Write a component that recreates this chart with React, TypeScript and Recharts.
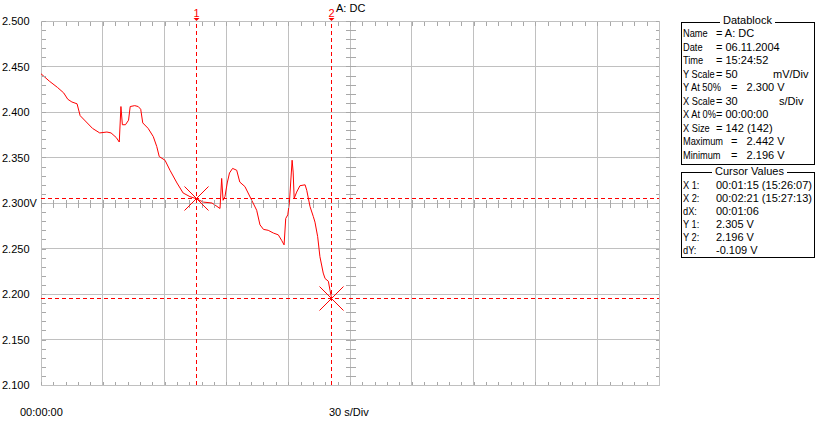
import React from "react";
import {
  ComposedChart,
  Line,
  Scatter,
  XAxis,
  YAxis,
  CartesianGrid,
  ReferenceLine,
  ReferenceDot,
  ReferenceArea,
} from "recharts";

// trace (seconds, volts)
const seconds = [
  0, 4, 8, 11, 13, 15, 17.5, 19, 22, 25, 28.5, 32, 34, 36.5, 38, 38.8, 39.5, 41, 42.5, 43.3,
  45.5, 47.2, 48.4, 49.4, 52, 54.5, 56.2, 57.4, 60.2, 62.6, 66, 69, 72.3, 75, 78.8, 83, 86.9,
  87.7, 88.4, 89.3, 90.4, 91.5, 93, 95, 96.5, 99, 102.3, 104.7, 106.3, 108, 110.3, 112.8,
  115.2, 116.8, 118, 118.8, 119.8, 120.6, 121.9, 122.4, 122.9, 124.1, 125.7, 128.2, 129,
  130.6, 132.2, 133, 134.3, 135.4, 137, 137.9, 139.5, 140.3, 141,
];
const volts = [
  2.442, 2.434, 2.427, 2.421, 2.414, 2.411, 2.409, 2.396, 2.389, 2.382, 2.377, 2.378, 2.377,
  2.372, 2.367, 2.406, 2.386, 2.386, 2.391, 2.406, 2.407, 2.406, 2.403, 2.388, 2.382, 2.373,
  2.362, 2.351, 2.347, 2.336, 2.322, 2.311, 2.307, 2.305, 2.301, 2.3, 2.294, 2.327, 2.303,
  2.307, 2.322, 2.333, 2.338, 2.336, 2.323, 2.318, 2.303, 2.292, 2.276, 2.271, 2.27, 2.267,
  2.265, 2.259, 2.254, 2.283, 2.287, 2.301, 2.347, 2.334, 2.305, 2.312, 2.319, 2.32, 2.314,
  2.296, 2.285, 2.279, 2.263, 2.241, 2.223, 2.217, 2.214, 2.204, 2.196,
];

const xTicks = [0, 30, 60, 90, 120, 150, 180, 210, 240, 270, 300];
const yTicks = [2.1, 2.15, 2.2, 2.25, 2.3, 2.35, 2.4, 2.45, 2.5];
const cursorT = [75, 141];
const cursorV = [2.305, 2.196];

const datablock = [
  ["Name", "= A: DC", 716],
  ["Date", "= 06.11.2004", 716],
  ["Time", "= 15:24:52", 716],
  ["Y Scale", "= 50", 716],
  ["Y At 50%", "=   2.300 V", 731],
  ["X Scale", "= 30", 716],
  ["X At 0%", "= 00:00:00", 716],
  ["X Size", "= 142 (142)", 716],
  ["Maximum", "=   2.442 V", 731],
  ["Minimum", "=   2.196 V", 731],
];
const cursorRows = [
  ["X 1:", "00:01:15 (15:26:07)"],
  ["X 2:", "00:02:21 (15:27:13)"],
  ["dX:", "00:01:06"],
  ["Y 1:", "2.305 V"],
  ["Y 2:", "2.196 V"],
  ["dY:", "-0.109 V"],
];

const trace = seconds.map((t, i) => ({ t, v: volts[i] }));

// minor division marks: 5 per division
const minorT = Array.from({ length: 51 }, (_, i) => i * 6);
const minorV = Array.from({ length: 41 }, (_, i) => +(2.1 + i * 0.01).toFixed(3));

const RED = "#ff0000";
const GRID = "#c0c0c0";
const FONT = "'Liberation Sans', Arial, sans-serif";

const snap = (n: number) => Math.round(n) + 0.5;

const mark = (x1: number, y1: number, x2: number, y2: number) => (p: any) => (
  <line
    x1={snap(p.cx) + x1}
    y1={snap(p.cy) + y1}
    x2={snap(p.cx) + x2}
    y2={snap(p.cy) + y2}
    stroke="#a8a8a8"
    strokeWidth={1}
    shapeRendering="crispEdges"
  />
);

// dashed cursor line kept on whole pixels so it stays pure red
const cursorLine = (p: any) => {
  const vertical = Math.abs(p.x1 - p.x2) < 0.01;
  const x1 = vertical ? snap(p.x1) : p.x1;
  const x2 = vertical ? snap(p.x2) : p.x2;
  const y1 = vertical ? p.y1 : snap(p.y1);
  const y2 = vertical ? p.y2 : snap(p.y2);
  return <line x1={x1} y1={y1} x2={x2} y2={y2} stroke={RED} strokeWidth={1} strokeDasharray="4 3" shapeRendering="crispEdges" />;
};

const xMark = (p: any) => {
  const cx = snap(p.cx);
  const cy = snap(p.cy);
  return (
    <g stroke={RED} strokeWidth={1}>
      <line x1={cx - 12} y1={cy - 12} x2={cx + 12} y2={cy + 12} />
      <line x1={cx - 12} y1={cy + 12} x2={cx + 12} y2={cy - 12} />
    </g>
  );
};

const cursorLabel = (n: string) => (p: any) => {
  const x = snap(p.viewBox.x);
  const y = p.viewBox.y;
  return (
    <g>
      <text x={x} y={y - 4} textAnchor="middle" fill={RED} fontSize={11} fontFamily={FONT}>
        {n}
      </text>
      <path d={`M${x - 3},${y - 3} L${x + 3},${y - 3} L${x},${y} Z`} fill={RED} />
    </g>
  );
};

const yTick = (p: any) => {
  const v = p.payload.value;
  return (
    <text x={2} y={p.y + 4} fontSize={11} fontFamily={FONT} fill="#000">
      {v.toFixed(3) + (v === 2.3 ? "V" : "")}
    </text>
  );
};

const narrow: React.CSSProperties = {
  display: "inline-block",
  transform: "scaleX(0.84)",
  transformOrigin: "left center",
  whiteSpace: "pre",
};

export default function App() {
  return (
    <div style={{ position: "absolute", left: 0, top: 0, width: 818, height: 424, background: "#fff", fontFamily: FONT, fontSize: 11 }}>
      <ComposedChart width={818} height={424} margin={{ top: 21, right: 159, bottom: 0, left: 0 }}>
        <CartesianGrid stroke={GRID} horizontalValues={yTicks} verticalValues={xTicks} shapeRendering="crispEdges" />
        <ReferenceArea x1={0} x2={300} y1={2.1} y2={2.5} fill="none" stroke={GRID} shapeRendering="crispEdges" />
        <XAxis
          type="number"
          dataKey="t"
          domain={[0, 300]}
          ticks={xTicks}
          height={39}
          axisLine={false}
          tickLine={false}
          tick={() => <g />}
          allowDataOverflow
        />
        <YAxis
          type="number"
          dataKey="v"
          domain={[2.1, 2.5]}
          ticks={yTicks}
          width={41}
          axisLine={false}
          tickLine={false}
          tick={yTick}
          allowDataOverflow
        />
        <Scatter data={minorT.map((t) => ({ t, v: 2.5 }))} dataKey="v" shape={mark(0, 0, 0, 4)} isAnimationActive={false} />
        <Scatter data={minorT.map((t) => ({ t, v: 2.1 }))} dataKey="v" shape={mark(0, -4, 0, 0)} isAnimationActive={false} />
        <Scatter data={minorT.map((t) => ({ t, v: 2.3 }))} dataKey="v" shape={mark(0, -4, 0, 4)} isAnimationActive={false} />
        <Scatter data={minorV.map((v) => ({ t: 0, v }))} dataKey="v" shape={mark(0, 0, 4, 0)} isAnimationActive={false} />
        <Scatter data={minorV.map((v) => ({ t: 300, v }))} dataKey="v" shape={mark(-4, 0, 0, 0)} isAnimationActive={false} />
        <Scatter data={minorV.map((v) => ({ t: 150, v }))} dataKey="v" shape={mark(-5, 0, 5, 0)} isAnimationActive={false} />
        <ReferenceLine y={cursorV[0]} shape={cursorLine} />
        <ReferenceLine y={cursorV[1]} shape={cursorLine} />
        <ReferenceLine x={cursorT[0]} shape={cursorLine} label={cursorLabel("1")} />
        <ReferenceLine x={cursorT[1]} shape={cursorLine} label={cursorLabel("2")} />
        <Line
          data={trace}
          dataKey="v"
          type="linear"
          stroke={RED}
          strokeWidth={1}
          dot={false}
          activeDot={false}
          isAnimationActive={false}
        />
        <ReferenceDot x={cursorT[0]} y={cursorV[0]} shape={xMark} />
        <ReferenceDot x={cursorT[1]} y={cursorV[1]} shape={xMark} />
      </ComposedChart>

      <div style={{ position: "absolute", left: 336, top: 2 }}>A: DC</div>
      <div style={{ position: "absolute", left: 20, top: 406 }}>00:00:00</div>
      <div style={{ position: "absolute", left: 329, top: 406 }}>30 s/Div</div>

      <div style={{ position: "absolute", left: 681, top: 22, width: 132, height: 141, border: "1px solid #000" }} />
      <div style={{ position: "absolute", left: 720, top: 14, padding: "0 3px", background: "#fff" }}>Datablock</div>
      {datablock.map((r, i) => (
        <React.Fragment key={String(r[0])}>
          <div style={{ position: "absolute", left: 683, top: 27 + i * 13.5 }}>
            <span style={narrow}>{r[0]}</span>
          </div>
          <div style={{ position: "absolute", left: r[2] as number, top: 27 + i * 13.5, whiteSpace: "pre" }}>{r[1]}</div>
        </React.Fragment>
      ))}
      <div style={{ position: "absolute", left: 773, top: 27 + 3 * 13.5 }}>mV/Div</div>
      <div style={{ position: "absolute", left: 779, top: 27 + 5 * 13.5 }}>s/Div</div>

      <div style={{ position: "absolute", left: 681, top: 172, width: 132, height: 84, border: "1px solid #000" }} />
      <div style={{ position: "absolute", left: 712, top: 165, padding: "0 3px", background: "#fff" }}>Cursor Values</div>
      {cursorRows.map((r, i) => (
        <React.Fragment key={r[0]}>
          <div style={{ position: "absolute", left: 683, top: 179 + i * 13 }}>
            <span style={narrow}>{r[0]}</span>
          </div>
          <div style={{ position: "absolute", left: 716, top: 179 + i * 13 }}>{r[1]}</div>
        </React.Fragment>
      ))}
    </div>
  );
}
